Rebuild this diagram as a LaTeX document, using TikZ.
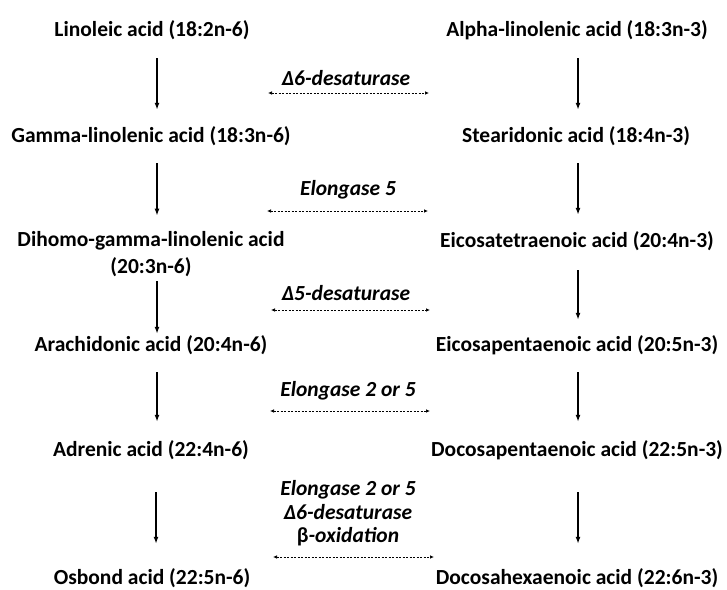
\documentclass[tikz,border=0pt]{standalone}
\usepackage{fontspec}
\setmainfont{Carlito}
\usetikzlibrary{arrows.meta}

\tikzset{
  acid/.style={font=\fontsize{21.5}{27}\selectfont\bfseries, inner sep=0pt, align=center, text height=16pt, text depth=2pt},
  acidtwo/.style={font=\fontsize{21.5}{27}\selectfont\bfseries, inner sep=0pt, align=center},
  enzyme/.style={font=\fontsize{21.5}{23.5}\selectfont\bfseries\itshape, inner sep=0pt, align=center},
  flow/.style={-{Latex[length=7pt,width=5pt]}, line width=1.5pt},
  swap/.style={{Latex[length=4pt,width=3.5pt]}-{Latex[length=4pt,width=3.5pt]}, line width=0.7pt, dash pattern=on 2pt off 1.5pt}
}

\begin{document}
\begin{tikzpicture}[x=1pt, y=1pt]
  \useasboundingbox (0, 0) rectangle (727, -589);

  % omega-6
  \node[acid]    (LA)   at (152, -29)    {Linoleic acid (18:2n-6)};
  \node[acid]    (GLA)  at (151, -135)   {Gamma-linolenic acid (18:3n-6)};
  \node[acidtwo] (DGLA) at (151, -254.5) {Dihomo-gamma-linolenic acid\\(20:3n-6)};
  \node[acid]    (AA)   at (151, -344)   {Arachidonic acid (20:4n-6)};
  \node[acid]    (AdA)  at (151, -449)   {Adrenic acid (22:4n-6)};
  \node[acid]    (OA)   at (152, -577)   {Osbond acid (22:5n-6)};

  % omega-3
  \node[acid] (ALA) at (577, -29)  {Alpha-linolenic acid (18:3n-3)};
  \node[acid] (SDA) at (576, -135) {Stearidonic acid (18:4n-3)};
  \node[acid] (ETA) at (577, -240) {Eicosatetraenoic acid (20:4n-3)};
  \node[acid] (EPA) at (577, -344) {Eicosapentaenoic acid (20:5n-3)};
  \node[acid] (DPA) at (577, -449) {Docosapentaenoic acid (22:5n-3)};
  \node[acid] (DHA) at (577, -577) {Docosahexaenoic acid (22:6n-3)};

  \draw[flow, shorten <=20pt, shorten >=16pt] ([xshift=5pt]LA.south) -- ([xshift=5pt]LA.south |- GLA.north);
  \draw[flow, shorten <=19pt, shorten >=16pt] ([xshift=6pt]GLA.south) -- ([xshift=6pt]GLA.south |- DGLA.north);
  \draw[flow, shorten <=4pt, shorten >=1pt] ([xshift=6pt]DGLA.south) -- ([xshift=6pt]DGLA.south |- AA.north);
  \draw[flow, shorten <=19pt, shorten >=18pt] ([xshift=6pt]AA.south) -- ([xshift=6pt]AA.south |- AdA.north);
  \draw[flow, shorten <=34pt, shorten >=24pt] ([xshift=5pt]AdA.south) -- ([xshift=5pt]AdA.south |- OA.north);

  \draw[flow, shorten <=20pt, shorten >=16pt] ([xshift=1pt]ALA.south) -- ([xshift=1pt]ALA.south |- SDA.north);
  \draw[flow, shorten <=19pt, shorten >=16pt] ([xshift=2pt]SDA.south) -- ([xshift=2pt]SDA.south |- ETA.north);
  \draw[flow, shorten <=21pt, shorten >=15pt] ([xshift=1pt]ETA.south) -- ([xshift=1pt]ETA.south |- EPA.north);
  \draw[flow, shorten <=19pt, shorten >=18pt] ([xshift=1pt]EPA.south) -- ([xshift=1pt]EPA.south |- DPA.north);
  \draw[flow, shorten <=34pt, shorten >=24pt] ([xshift=1pt]DPA.south) -- ([xshift=1pt]DPA.south |- DHA.north);

  % 酶
  \node[enzyme, text height=16pt, text depth=2pt] (E1) at (346, -78)  {Δ6-desaturase};
  \node[enzyme, text height=16pt, text depth=2pt] (E2) at (348, -188) {Elongase 5};
  \node[enzyme, text height=16pt, text depth=2pt] (E3) at (346, -293) {Δ5-desaturase};
  \node[enzyme, text height=16pt, text depth=2pt] (E4) at (348, -389) {Elongase 2 or 5};
  \node[enzyme] (E5) at (348, -513.5) {Elongase 2 or 5\\Δ6-desaturase\\{\upshape β}-oxidation};

  \coordinate (S1a) at (268, -93);  \coordinate (S1b) at (429, -93);
  \coordinate (S2a) at (267, -211); \coordinate (S2b) at (428, -211);
  \coordinate (S3a) at (271, -310); \coordinate (S3b) at (430, -310);
  \coordinate (S4a) at (270, -411); \coordinate (S4b) at (430, -411);
  \coordinate (S5a) at (273, -557); \coordinate (S5b) at (434, -557);

  \draw[swap] (S1a) -- (S1b);
  \draw[swap] (S2a) -- (S2b);
  \draw[swap] (S3a) -- (S3b);
  \draw[swap] (S4a) -- (S4b);
  \draw[swap] (S5a) -- (S5b);
\end{tikzpicture}
\end{document}
